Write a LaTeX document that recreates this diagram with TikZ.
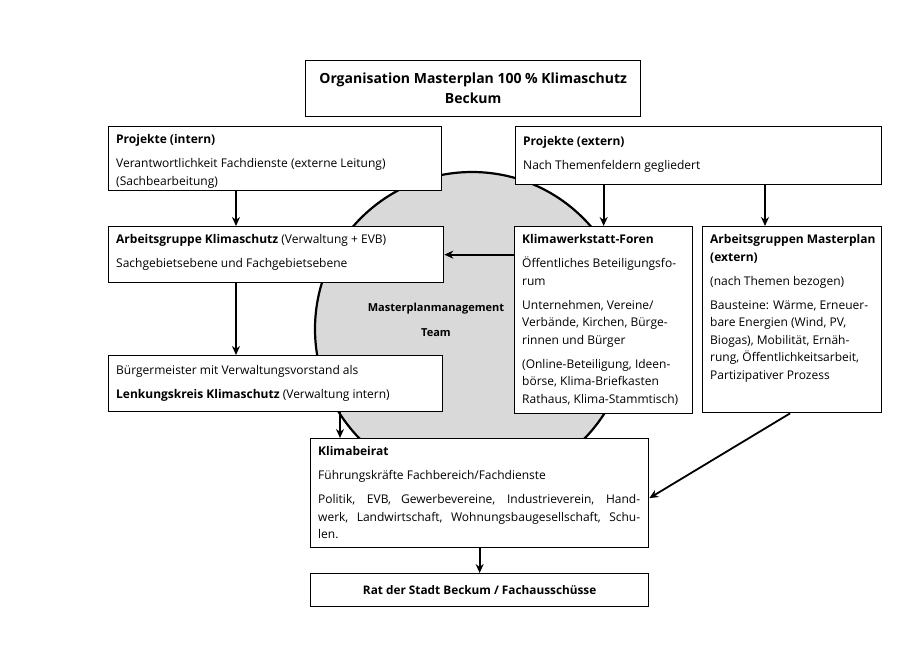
\documentclass[tikz,border=0pt]{standalone}
\usepackage{fontspec}
\setmainfont{Open Sans}
\usetikzlibrary{arrows.meta,calc}
\begin{document}
\begin{tikzpicture}[x=1pt,y=-1pt,
 box/.style={draw, line width=1.3pt, fill=white, inner sep=0pt, anchor=north west},
 txt/.style={anchor=north west, inner sep=0pt, align=left, font=\fontsize{12}{17.5}\selectfont},
 ttl/.style={inner sep=0pt, align=center, font=\fontsize{14}{20}\selectfont\bfseries},
 arr/.style={-{Stealth[length=9pt,width=8pt]}, line width=1.8pt}]
\useasboundingbox (0,0) rectangle (920,651);
\fill[white] (0,0) rectangle (920,651);
% team circle
\draw[line width=2.2pt, fill=black!15] (472,329) circle [radius=157pt];
\node[font=\fontsize{11}{25}\selectfont\bfseries, align=center, inner sep=0pt] (team) at (436,319.5) {Masterplanmanagement\\Team};
% boxes
\node[box, minimum width=335pt, minimum height=56pt] (title) at (305,60) {};
\node[box, minimum width=333pt, minimum height=64pt] (pi) at (108,126) {};
\node[box, minimum width=366pt, minimum height=58pt] (pe) at (515,126) {};
\node[box, minimum width=178pt, minimum height=187pt] (kw) at (514,226) {};
\node[box, minimum width=179pt, minimum height=186pt] (am) at (702,226) {};
\node[box, minimum width=335pt, minimum height=56pt] (ak) at (108,226) {};
\node[box, minimum width=334pt, minimum height=56pt] (bm) at (108,355) {};
\node[box, minimum width=338pt, minimum height=109pt] (kb) at (310,438) {};
\node[box, minimum width=338pt, minimum height=33pt] (rat) at (310,573) {};
% texts
\node[ttl] (titleT) at (title.center) {Organisation Masterplan 100 \% Klimaschutz\\Beckum};
\node[txt] (piT) at ($(pi.north west)+(8,5.5)$) {\strut\textbf{Projekte (intern)}\\[6.5pt]Verantwortlichkeit Fachdienste (externe Leitung)\\(Sachbearbeitung)};
\node[txt] (peT) at ($(pe.north west)+(8,7)$) {\strut\textbf{Projekte (extern)}\\[6.5pt]Nach Themenfeldern gegliedert};
\node[txt] (akT) at ($(ak.north west)+(8,5.5)$) {\strut\textbf{Arbeitsgruppe Klimaschutz} (Verwaltung + EVB)\\[6.5pt]Sachgebietsebene und Fachgebietsebene};
\node[txt] (kwT) at ($(kw.north west)+(8,5.5)$) {\strut\textbf{Klimawerkstatt-Foren}\\[6.5pt]Öffentliches Beteiligungsfo-\\rum\\[6.5pt]Unternehmen, Vereine/\\Verbände, Kirchen, Bürge-\\rinnen und Bürger\\[6.5pt](Online-Beteiligung, Ideen-\\börse, Klima-Briefkasten\\Rathaus, Klima-Stammtisch)};
\node[txt] (amT) at ($(am.north west)+(8,5.5)$) {\strut\textbf{Arbeitsgruppen Masterplan}\\\textbf{(extern)}\\[6.5pt](nach Themen bezogen)\\[6.5pt]Bausteine: Wärme, Erneuer-\\bare Energien (Wind, PV,\\Biogas), Mobilität, Ernäh-\\rung, Öffentlichkeitsarbeit,\\Partizipativer Prozess};
\node[txt] (bmT) at ($(bm.north west)+(8,7)$) {\strut Bürgermeister mit Verwaltungsvorstand als\\[6.5pt]\textbf{Lenkungskreis Klimaschutz} (Verwaltung intern)};
\node[txt] (kbT) at ($(kb.north west)+(8,5.5)$) {\strut\textbf{Klimabeirat}\\[6.5pt]Führungskräfte Fachbereich/Fachdienste\\[6.5pt]\makebox[322pt][s]{Politik, EVB, Gewerbevereine, Industrieverein, Hand-}\\\makebox[322pt][s]{werk, Landwirtschaft, Wohnungsbaugesellschaft, Schu-}\\len.};
\node[font=\fontsize{11.8}{14}\selectfont\bfseries, inner sep=0pt] (ratT) at (rat.center) {Rat der Stadt Beckum / Fachausschüsse};
% connectors
\draw[arr] ($(pi.south west)+(128,0)$) -- ($(ak.north west)+(128,0)$);
\draw[arr] (pe.south -| kw.north) -- (kw.north);
\draw[arr] ($(pe.south west)+(250,0)$) -- ($(am.north west)+(63,0)$);
\draw[arr] (kw.west |- ak.east) -- (ak.east);
\draw[arr] ($(ak.south west)+(128,0)$) -- ($(bm.north west)+(128,0)$);
\draw[arr] ($(bm.south west)+(232,0)$) -- ($(kb.north west)+(30,0)$);
\draw[arr] ($(am.south)+(-2,0)$) -- ($(kb.east)+(0,5)$);
\draw[arr] (kb.south -| rat.north) -- (rat.north);
\end{tikzpicture}
\end{document}
